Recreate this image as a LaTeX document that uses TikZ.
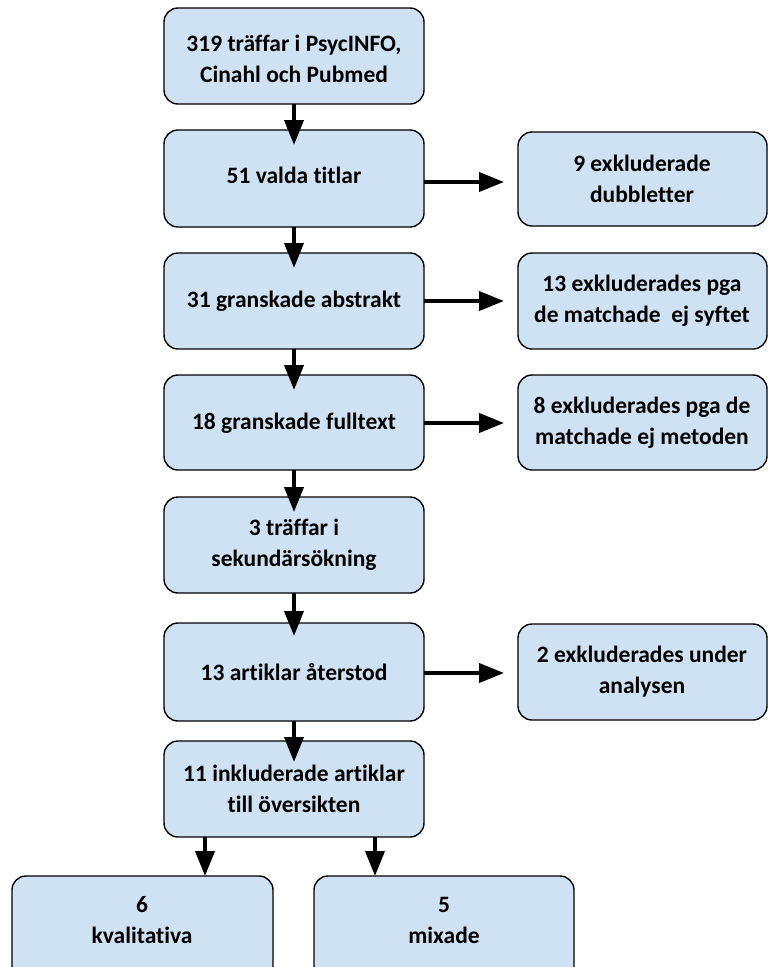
\documentclass[tikz,border=0pt]{standalone}
\usepackage{fontspec}
\setmainfont[Ligatures={NoCommon}]{Carlito}
\usetikzlibrary{arrows.meta}
\definecolor{boxfill}{RGB}{207,226,243}
\tikzset{
  box/.style={draw=black, line width=1.4pt, fill=boxfill, rounded corners=14pt},
  lbl/.style={align=center, font=\fontsize{23.5}{31}\selectfont\bfseries},
  arr/.style={line width=4pt, -{Triangle[length=25pt,width=19pt]}}
}
\begin{document}
\begin{tikzpicture}[x=1pt,y=-1pt]
\useasboundingbox (0,0) rectangle (768,967);
\begin{scope}
\clip (0,0) rectangle (768,967);
% main column
\draw[box] (164,8) rectangle (424,104);
\node[lbl] (b1) at (294,59) {319 träffar i PsycINFO,\\Cinahl och Pubmed};
\draw[box] (164,130) rectangle (424,227);
\node[lbl] (b2) at (294,175) {51 valda titlar};
\draw[box] (164,253) rectangle (424,349);
\node[lbl] (b3) at (294,301) {31 granskade abstrakt};
\draw[box] (164,375) rectangle (424,470);
\node[lbl] (b4) at (294,423) {18 granskade fulltext};
\draw[box] (164,497) rectangle (424,593);
\node[lbl] (b5) at (294,545) {3 träffar i\\sekundärsökning};
\draw[box] (164,623) rectangle (424,721);
\node[lbl] (b6) at (294,672) {13 artiklar återstod};
\draw[box] (164,741) rectangle (424,837);
\node[lbl] (b7) at (294,789) {11 inkluderade artiklar\\till översikten};
% right column
\draw[box] (518,132) rectangle (767,226);
\node[lbl] (r1) at (642,179) {9 exkluderade\\dubbletter};
\draw[box] (518,253) rectangle (767,349);
\node[lbl] (r2) at (642,301) {13 exkluderades pga\\de matchade\ \ ej syftet};
\draw[box] (518,375) rectangle (767,470);
\node[lbl] (r3) at (642,423) {8 exkluderades pga de\\matchade ej metoden};
\draw[box] (518,624) rectangle (767,720);
\node[lbl] (r4) at (642,672) {2 exkluderades under\\analysen};
% bottom
\draw[box] (12,876) rectangle (273,980);
\node[lbl] (k1) at (142,920) {6\\kvalitativa};
\draw[box] (314,876) rectangle (574,980);
\node[lbl] (k2) at (444,920) {5\\mixade};
\end{scope}
% coordinates for arrows
\coordinate (v1a) at (294,104); \coordinate (v1b) at (294,145);
\coordinate (v2a) at (294,227); \coordinate (v2b) at (294,268);
\coordinate (v3a) at (294,349); \coordinate (v3b) at (294,390);
\coordinate (v4a) at (294,470); \coordinate (v4b) at (294,512);
\coordinate (v5a) at (294,593); \coordinate (v5b) at (294,636);
\coordinate (v6a) at (294,721); \coordinate (v6b) at (294,762);
\coordinate (v7a) at (205,837); \coordinate (v7b) at (205,876);
\coordinate (v8a) at (375,837); \coordinate (v8b) at (375,876);
\coordinate (h1a) at (424,182); \coordinate (h1b) at (504,182);
\coordinate (h2a) at (424,301); \coordinate (h2b) at (504,301);
\coordinate (h3a) at (424,423); \coordinate (h3b) at (504,423);
\coordinate (h4a) at (424,673); \coordinate (h4b) at (504,673);
\foreach \p in {v1,v2,v3,v4,v5,v6,v7,v8,h1,h2,h3,h4}
  \draw[arr] (\p a) -- (\p b);
\end{tikzpicture}
\end{document}
